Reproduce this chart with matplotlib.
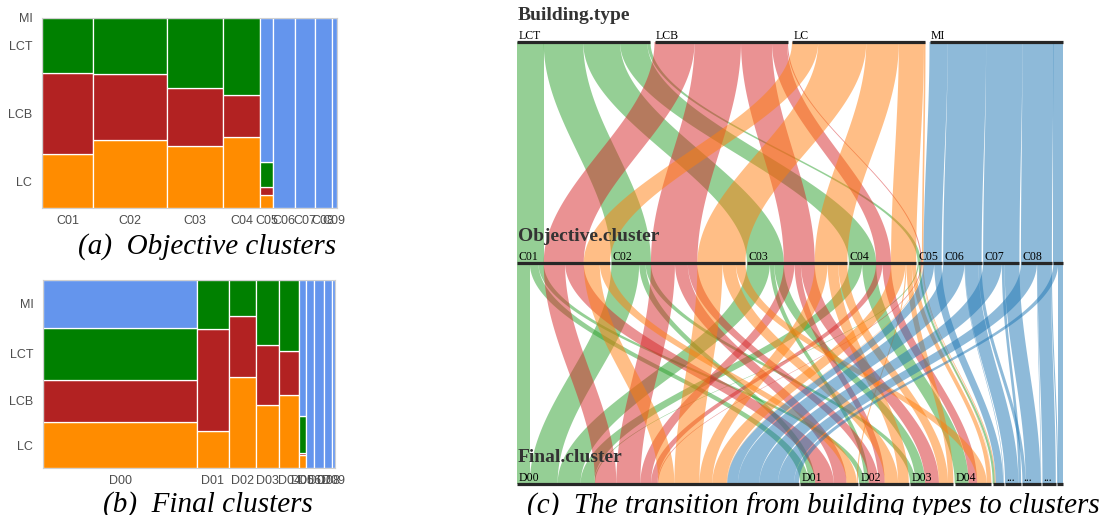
import numpy as np
import matplotlib
matplotlib.use("Agg")
import matplotlib.pyplot as plt
from matplotlib.patches import Rectangle, Polygon

# ---------------- data ----------------
types = ["LCT", "LCB", "LC", "MI"]
objective = ["C01", "C02", "C03", "C04", "C05", "C06", "C07", "C08", "C09"]
final = ["D00", "D01", "D02", "D03", "D04", "D05", "D06", "D07", "D08", "D09"]

# (objective cluster, final cluster, count) for each building type
flows_LCT = [("C01", "D00", 24), ("C01", "D01", 16), ("C01", "D02", 10),
             ("C02", "D00", 52), ("C02", "D01", 12), ("C02", "D03", 10),
             ("C03", "D00", 43), ("C03", "D02", 8), ("C03", "D03", 18),
             ("C04", "D00", 25), ("C04", "D04", 26),
             ("C05", "D00", 2), ("C05", "D05", 4)]
flows_LCB = [("C01", "D00", 40), ("C01", "D01", 35),
             ("C02", "D00", 45), ("C02", "D01", 24), ("C02", "D02", 18),
             ("C03", "D00", 20), ("C03", "D02", 12), ("C03", "D03", 26),
             ("C04", "D00", 12), ("C04", "D04", 16),
             ("C05", "D00", 1.7), ("C05", "D05", 0.3)]
flows_LC = [("C01", "D00", 30), ("C01", "D01", 19),
            ("C02", "D00", 47), ("C02", "D02", 25), ("C02", "D04", 18),
            ("C03", "D00", 24), ("C03", "D02", 20), ("C03", "D03", 17),
            ("C04", "D00", 27), ("C04", "D01", 2), ("C04", "D03", 10), ("C04", "D04", 8),
            ("C05", "D00", 1), ("C05", "D04", 0.6), ("C05", "D05", 1.4)]
flows_MI = [("C05", "D00", 20), ("C05", "D05", 14),
            ("C06", "D00", 40), ("C06", "D05", 1), ("C06", "D06", 25), ("C06", "D07", 6),
            ("C07", "D00", 35), ("C07", "D06", 5), ("C07", "D07", 28),
            ("C08", "D00", 30), ("C08", "D07", 1), ("C08", "D08", 25), ("C08", "D09", 2),
            ("C09", "D00", 9), ("C09", "D09", 9)]
flows = {"LCT": flows_LCT, "LCB": flows_LCB, "LC": flows_LC, "MI": flows_MI}

mosaic_colors = {"LC": "#FF8C00", "LCB": "#B22222", "LCT": "#008000", "MI": "#6495ED"}
ribbon_colors = {"LCT": "#2ca02c", "LCB": "#d62728", "LC": "#ff7f0e", "MI": "#1f77b4"}
stack_order = ["LC", "LCB", "LCT", "MI"]

# ---------------- derived tables ----------------
n3 = {}
for t in types:
    for c, d, v in flows[t]:
        n3[(t, c, d)] = n3.get((t, c, d), 0) + v


def n_tc(t, c):
    return sum(v for (tt_, cc, dd), v in n3.items() if tt_ == t and cc == c)


def n_td(t, d):
    return sum(v for (tt_, cc, dd), v in n3.items() if tt_ == t and dd == d)


fig = plt.figure(figsize=(11.04, 5.15), dpi=100)

SANS = "Liberation Sans"
SERIF = "Liberation Serif"


def mosaic(rect, groups, count):
    ax = fig.add_axes(rect)
    totals = [sum(count(t, g) for t in types) for g in groups]
    grand = sum(totals)
    x = 0.0
    centers = []
    first_ycenters = None
    for g, tot in zip(groups, totals):
        w = tot / grand
        y = 0.0
        ycs = []
        for t in stack_order:
            h = count(t, g) / tot
            if h > 0:
                ax.add_patch(Rectangle((x, y), w, h, facecolor=mosaic_colors[t],
                                       edgecolor="white", linewidth=0.9))
            ycs.append(y + h / 2)
            y += h
        if first_ycenters is None:
            first_ycenters = ycs
        centers.append(x + w / 2)
        x += w
    ax.set_xlim(0, 1)
    ax.set_ylim(0, 1)
    ax.set_xticks(centers)
    ax.set_xticklabels(groups, fontfamily=SANS, fontsize=9, color="#4d4d4d")
    ax.set_yticks(first_ycenters)
    ax.set_yticklabels(stack_order, fontfamily=SANS, fontsize=9, color="#4d4d4d")
    ax.tick_params(axis="x", length=0, pad=5)
    ax.tick_params(axis="y", length=0, pad=7)
    for s in ax.spines.values():
        s.set_color("#d0d0d0")
        s.set_linewidth(0.8)
    return ax


mosaic([42 / 1104, 1 - 208 / 515, 295 / 1104, 190 / 515], objective, n_tc)
mosaic([43 / 1104, 1 - 468 / 515, 292 / 1104, 188 / 515], final, n_td)

cap_kw = dict(fontfamily=SERIF, fontstyle="italic", fontsize=21, va="baseline", ha="left")
fig.text(78 / 1104, 1 - 254 / 515, "(a)  Objective clusters", **cap_kw)
fig.text(103 / 1104, 1 - 512 / 515, "(b)  Final clusters", **cap_kw)
fig.text(527 / 1104, 1 - 514 / 515, "(c)  The transition from building types to clusters", **cap_kw)

# ---------------- parallel sets ----------------
axp = fig.add_axes([517 / 1104, 1 - 484 / 515, 546 / 1104, 442 / 515])
axp.axis("off")

gap_top = 7.5
total = sum(n3.values())
W = total + gap_top * (len(types) - 1)
gap_mid = gap_top * (len(types) - 1) / (len(objective) - 1)
gap_bot = gap_top * (len(types) - 1) / (len(final) - 1)
axp.set_xlim(0, W)
axp.set_ylim(0, 2)
px_per_unit = 546 / W

size_t = {t: sum(n_tc(t, c) for c in objective) for t in types}
size_c = {c: sum(n_tc(t, c) for t in types) for c in objective}
size_d = {d: sum(n_td(t, d) for t in types) for d in final}


def starts(order, sizes, gap):
    out, x = {}, 0.0
    for k in order:
        out[k] = x
        x += sizes[k] + gap
    return out


st_t = starts(types, size_t, gap_top)
st_c = starts(objective, size_c, gap_mid)
st_d = starts(final, size_d, gap_bot)

tt = np.linspace(0, 1, 80)
ss = (1 - np.cos(np.pi * tt)) / 2


def ribbon(x0, x1, v, y0, y1, color):
    xl = x0 + (x1 - x0) * ss
    ys = y0 + (y1 - y0) * tt
    pts = np.concatenate([np.column_stack([xl, ys]),
                          np.column_stack([xl[::-1] + v, ys[::-1]])])
    axp.add_patch(Polygon(pts, closed=True, facecolor=color, alpha=0.5,
                          edgecolor="none", linewidth=0))


# middle segment start for (c, t)
mid_ct = {}
for c in objective:
    x = st_c[c]
    for t in types:
        mid_ct[(c, t)] = x
        x += n_tc(t, c)

# top -> middle
for t in types:
    xt = st_t[t]
    for c in objective:
        v = n_tc(t, c)
        if v > 0:
            ribbon(xt, mid_ct[(c, t)], v, 2, 1, ribbon_colors[t])
            xt += v

# bottom segment start for (d, t)
bot_cursor = {}
for d in final:
    x = st_d[d]
    for t in types:
        bot_cursor[(d, t)] = x
        x += n_td(t, d)

# middle -> bottom
mid_cursor = dict(mid_ct)
for t in types:
    for c in objective:
        for d in final:
            v = n3.get((t, c, d), 0)
            if v > 0:
                ribbon(mid_cursor[(c, t)], bot_cursor[(d, t)], v, 1, 0, ribbon_colors[t])
                mid_cursor[(c, t)] += v
                bot_cursor[(d, t)] += v


def draw_axis(order, st, sizes, level, title):
    for k in order:
        x0 = st[k]
        x1 = x0 + sizes[k]
        axp.plot([x0, x1], [level, level], color="#262626", lw=2.3,
                 solid_capstyle="butt", clip_on=False, zorder=5)
        wpx = sizes[k] * px_per_unit
        lab = k if wpx >= 20 else ("..." if wpx >= 12 else "")
        if lab:
            axp.annotate(lab, (x0, level), xytext=(0.8, 2.5), textcoords="offset points",
                         fontfamily=SERIF, fontsize=8.5, color="black",
                         ha="left", va="baseline", annotation_clip=False, zorder=6)
    axp.annotate(title, (0, level), xytext=(0.5, 15.5), textcoords="offset points",
                 fontfamily=SERIF, fontweight="bold", fontsize=14, color="#333333",
                 ha="left", va="baseline", annotation_clip=False, zorder=6)


draw_axis(types, st_t, size_t, 2, "Building.type")
draw_axis(objective, st_c, size_c, 1, "Objective.cluster")
draw_axis(final, st_d, size_d, 0, "Final.cluster")

fig.savefig("out.png", dpi=100)
